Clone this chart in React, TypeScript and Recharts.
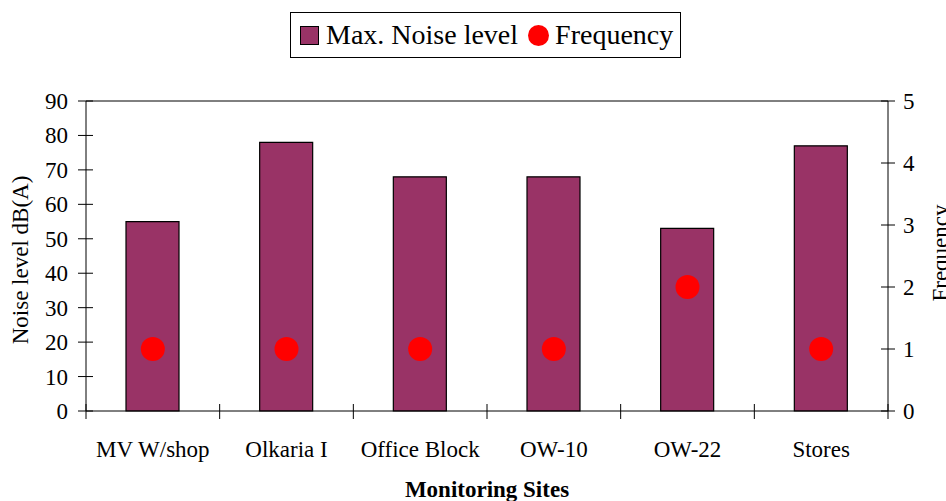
import React from 'react';
import { ComposedChart, Bar, Scatter, XAxis, YAxis, ReferenceLine } from 'recharts';

const categories = ['MV W/shop', 'Olkaria I', 'Office Block', 'OW-10', 'OW-22', 'Stores'];
const noiseLevels = [55, 78, 68, 68, 53, 77];
const frequencies = [1, 1, 1, 1, 2, 1];
const leftTicks = [0, 10, 20, 30, 40, 50, 60, 70, 80, 90];
const rightTicks = [0, 1, 2, 3, 4, 5];

const data = categories.map((site, i) => ({ site, noise: noiseLevels[i], freq: frequencies[i] }));

const FONT = '"Liberation Serif", "Times New Roman", serif';
const W = 946;
const H = 501;
const MARGIN = { top: 101, right: 8, bottom: 40, left: 20 };
const LEFT_W = 66;
const RIGHT_W = 50;
const PLOT_W = W - MARGIN.left - MARGIN.right - LEFT_W - RIGHT_W;
const BAND = PLOT_W / categories.length;
const FS = 23;

const XTick = (props: any) => {
  const { x, y, payload, index } = props;
  return (
    <g>
      <line x1={x - BAND / 2} x2={x - BAND / 2} y1={y - 7} y2={y + 8} stroke="#000" />
      {index === categories.length - 1 && (
        <line x1={x + BAND / 2} x2={x + BAND / 2} y1={y - 7} y2={y + 8} stroke="#000" />
      )}
      <text x={x} y={y + 46} textAnchor="middle" fontFamily={FONT} fontSize={FS} fill="#000">
        {payload.value}
      </text>
    </g>
  );
};

const LeftTick = (props: any) => {
  const { x, y, payload } = props;
  return (
    <g>
      <line x1={x - 8} x2={x + 7} y1={y} y2={y} stroke="#000" />
      <text x={x - 18} y={y} dy="0.35em" textAnchor="end" fontFamily={FONT} fontSize={FS} fill="#000">
        {payload.value}
      </text>
    </g>
  );
};

const RightTick = (props: any) => {
  const { x, y, payload } = props;
  return (
    <g>
      <line x1={x - 7} x2={x + 7} y1={y} y2={y} stroke="#000" />
      <text x={x + 15} y={y} dy="0.35em" textAnchor="start" fontFamily={FONT} fontSize={FS} fill="#000">
        {payload.value}
      </text>
    </g>
  );
};

const LeftLabel = (props: any) => {
  const vb = props.viewBox || {};
  const cy = (vb.y ?? 101) + (vb.height ?? 310) / 2 + 4;
  const cx = 20;
  return (
    <text
      x={cx}
      y={cy}
      dy="0.35em"
      transform={`rotate(-90, ${cx}, ${cy})`}
      textAnchor="middle"
      fontFamily={FONT}
      fontSize={FS}
      fill="#000"
    >
      Noise level dB(A)
    </text>
  );
};

const RightLabel = (props: any) => {
  const vb = props.viewBox || {};
  const cy = (vb.y ?? 101) + (vb.height ?? 310) / 2 - 3;
  const cx = 940;
  return (
    <text
      x={cx}
      y={cy}
      dy="0.35em"
      transform={`rotate(-90, ${cx}, ${cy})`}
      textAnchor="middle"
      fontFamily={FONT}
      fontSize={FS}
      fill="#000"
    >
      Frequency
    </text>
  );
};

const BottomLabel = (props: any) => {
  const vb = props.viewBox || {};
  const cx = (vb.x ?? 86) + (vb.width ?? 802) / 2;
  return (
    <text x={cx} y={497} textAnchor="middle" fontFamily={FONT} fontSize={23} fontWeight="bold" fill="#000">
      Monitoring Sites
    </text>
  );
};

const Dot = (props: any) => <circle cx={props.cx} cy={props.cy} r={12} fill="#ff0000" />;

const LegendBox = () => (
  <div
    style={{
      position: 'absolute',
      left: 290,
      top: 12,
      width: 391,
      height: 46,
      border: '1px solid #000',
      boxSizing: 'border-box',
      display: 'flex',
      alignItems: 'center',
      fontFamily: FONT,
      fontSize: 28,
      color: '#000',
      whiteSpace: 'nowrap',
    }}
  >
    <span
      style={{
        display: 'inline-block',
        width: 19,
        height: 19,
        background: '#993366',
        border: '1px solid #000',
        boxSizing: 'border-box',
        marginLeft: 9,
        marginRight: 7,
      }}
    />
    <span>Max. Noise level</span>
    <span
      style={{
        display: 'inline-block',
        width: 21,
        height: 21,
        borderRadius: '50%',
        background: '#ff0000',
        marginLeft: 10,
        marginRight: 6,
      }}
    />
    <span>Frequency</span>
  </div>
);

export default function App() {
  return (
    <div style={{ position: 'absolute', left: 0, top: 0, width: W, height: H, background: '#fff' }}>
      <ComposedChart width={W} height={H} data={data} margin={MARGIN}>
        <XAxis
          dataKey="site"
          interval={0}
          tickLine={false}
          tickSize={0}
          tickMargin={0}
          height={50}
          axisLine={{ stroke: '#000' }}
          tick={(p: any) => <XTick {...p} />}
          label={<BottomLabel />}
        />
        <YAxis
          yAxisId="left"
          orientation="left"
          domain={[0, 90]}
          ticks={leftTicks}
          width={LEFT_W}
          tickLine={false}
          tickSize={0}
          tickMargin={0}
          axisLine={{ stroke: '#000' }}
          tick={(p: any) => <LeftTick {...p} />}
          label={<LeftLabel />}
        />
        <YAxis
          yAxisId="right"
          orientation="right"
          domain={[0, 5]}
          ticks={rightTicks}
          width={RIGHT_W}
          tickLine={false}
          tickSize={0}
          tickMargin={0}
          axisLine={{ stroke: '#000' }}
          tick={(p: any) => <RightTick {...p} />}
          label={<RightLabel />}
        />
        <ReferenceLine yAxisId="left" y={90} stroke="#000" />
        <Bar
          yAxisId="left"
          dataKey="noise"
          barSize={53}
          fill="#993366"
          stroke="#000"
          strokeWidth={1.2}
          isAnimationActive={false}
        />
        <Scatter yAxisId="right" dataKey="freq" shape={(p: any) => <Dot {...p} />} isAnimationActive={false} />
      </ComposedChart>
      <LegendBox />
    </div>
  );
}
